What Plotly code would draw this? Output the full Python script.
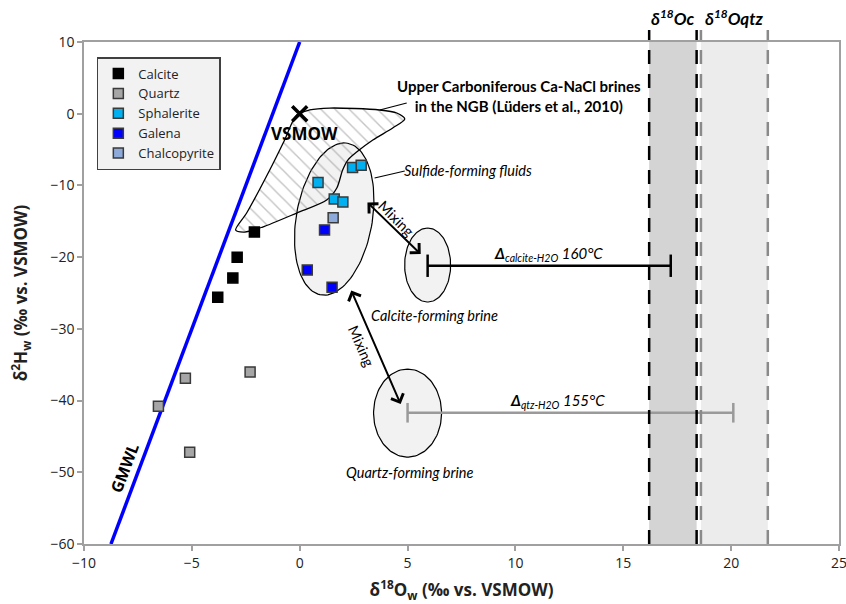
import numpy as np
import plotly.graph_objects as go

# ---------------- data ----------------
calcite_x = [-2.1, -2.9, -3.1, -3.8]
calcite_y = [-16.5, -20.0, -22.9, -25.6]

quartz_x = [-6.55, -5.3, -2.3, -5.1]
quartz_y = [-40.8, -36.9, -36.0, -47.2]

sphalerite_x = [0.85, 2.45, 2.85, 1.6, 2.0]
sphalerite_y = [-9.6, -7.5, -7.2, -11.9, -12.3]

galena_x = [1.15, 0.35, 1.5]
galena_y = [-16.2, -21.8, -24.2]

chalco_x = [1.55]
chalco_y = [-14.5]

gmwl_x = [-8.75, 0.0]
gmwl_y = [-60.0, 10.0]

# Upper Carboniferous brine field outline (data units)
brine_x = [-0.14, 0.46, 1.39, 3.71, 4.50, 4.87, 4.31, 3.39, 2.64, 2.23, 1.99, 1.72,
           1.25, -0.14, -1.72, -2.55, -2.97, -2.46, -1.39, -0.70, -0.14]
brine_y = [-0.18, 0.52, 0.79, 0.52, 0.10, -0.74, -1.99, -3.67, -5.34, -6.46, -7.85,
           -10.36, -12.04, -13.85, -15.80, -16.50, -16.22, -13.85, -7.85, -3.67, -0.18]

# fractionation bars
calc_bar_x = [5.93, 17.2]
calc_bar_y = [-21.2, -21.2]
qtz_bar_x = [5.0, 20.1]
qtz_bar_y = [-41.7, -41.7]

# delta-18O ranges
oc_range = [16.2, 18.4]
oqtz_range = [18.6, 21.7]

# ---------------- layout constants ----------------
W, H = 846, 604
ML, MR, MT, MB = 84, 7, 42, 60
XR = [-10, 25]
YR = [-60, 10]
PXX = (W - ML - MR) / (XR[1] - XR[0])
PXY = (H - MT - MB) / (YR[1] - YR[0])


def ellipse(cx, cy, a_px, b_px, tilt_deg):
    t = np.linspace(0, 2 * np.pi, 120)
    th = np.radians(tilt_deg)
    mx, my = np.sin(th), -np.cos(th)
    nx, ny = np.cos(th), np.sin(th)
    dx = a_px * np.cos(t) * mx + b_px * np.sin(t) * nx
    dy = a_px * np.cos(t) * my + b_px * np.sin(t) * ny
    return cx + dx / PXX, cy - dy / PXY


fig = go.Figure()

FONT = "Lato"
BFONT = "Open Sans"

# ellipses
ell_fill = "#f2f2f2"
for (cx, cy, a, b, tl) in [(1.6, -14.69, 77, 38, 10), (5.93, -21.1, 37, 23, 0), (5.0, -41.74, 44, 34, 0)]:
    ex, ey = ellipse(cx, cy, a, b, tl)
    fig.add_trace(go.Scatter(x=ex, y=ey, mode="lines", fill="toself", fillcolor=ell_fill,
                             line=dict(color="black", width=1.2), showlegend=False, hoverinfo="skip"))

# hatched brine field
fig.add_trace(go.Scatter(x=brine_x, y=brine_y, mode="lines", fill="toself",
                         line=dict(color="black", width=1.3, shape="spline", smoothing=0.8),
                         fillcolor="rgba(0,0,0,0)",
                         fillpattern=dict(shape="\\", fgcolor="#8a8a8a", bgcolor="rgba(0,0,0,0)",
                                          size=10, solidity=0.14),
                         showlegend=False, hoverinfo="skip"))

# GMWL
fig.add_trace(go.Scatter(x=gmwl_x, y=gmwl_y, mode="lines", line=dict(color="#0000ff", width=3.5),
                         showlegend=False, hoverinfo="skip"))

# fractionation bars
fig.add_trace(go.Scatter(x=calc_bar_x, y=calc_bar_y, mode="lines+markers",
                         line=dict(color="black", width=2.5),
                         marker=dict(symbol="line-ns", size=16, line=dict(color="black", width=2.5)),
                         showlegend=False, hoverinfo="skip"))
fig.add_trace(go.Scatter(x=qtz_bar_x, y=qtz_bar_y, mode="lines+markers",
                         line=dict(color="#9a9a9a", width=2.5),
                         marker=dict(symbol="line-ns", size=14, line=dict(color="#9a9a9a", width=2.5)),
                         showlegend=False, hoverinfo="skip"))

# minerals
edge = "#3a3a3a"
for name, xs, ys, col, ec in [("Calcite", calcite_x, calcite_y, "#000000", "#000000"),
                              ("Quartz", quartz_x, quartz_y, "#a6a6a6", edge),
                              ("Sphalerite", sphalerite_x, sphalerite_y, "#00b0f0", edge),
                              ("Galena", galena_x, galena_y, "#0000ff", edge),
                              ("Chalcopyrite", chalco_x, chalco_y, "#8eaadb", edge)]:
    fig.add_trace(go.Scatter(x=xs, y=ys, mode="markers", name=name,
                             marker=dict(symbol="square", size=10, color=col, line=dict(color=ec, width=1.5))))

# VSMOW
fig.add_trace(go.Scatter(x=[0], y=[0], mode="markers",
                         marker=dict(symbol="x-thin", size=15, line=dict(color="black", width=3.5)),
                         showlegend=False, hoverinfo="skip"))

shapes = []
# bands
shapes.append(dict(type="rect", xref="x", yref="paper", x0=oc_range[0], x1=oc_range[1], y0=0, y1=1,
                   fillcolor="#d4d4d4", line=dict(width=0), layer="below"))
shapes.append(dict(type="rect", xref="x", yref="paper", x0=oqtz_range[0], x1=oqtz_range[1], y0=0, y1=1,
                   fillcolor="#ececec", line=dict(width=0), layer="below"))
for xv in oc_range:
    shapes.append(dict(type="line", xref="x", yref="paper", x0=xv, x1=xv, y0=0, y1=1.024,
                       line=dict(color="black", width=2.5, dash="14px,10px")))
for xv in oqtz_range:
    shapes.append(dict(type="line", xref="x", yref="paper", x0=xv, x1=xv, y0=0, y1=1.024,
                       line=dict(color="#8a8a8a", width=2.5, dash="14px,10px")))
# leader lines
shapes.append(dict(type="line", xref="x", yref="y", x0=3.71, y0=0.52, x1=4.96, y1=1.5,
                   line=dict(color="black", width=1.2)))
shapes.append(dict(type="line", xref="x", yref="y", x0=3.47, y0=-8.97, x1=4.87, y1=-7.99,
                   line=dict(color="black", width=1.2)))

ann = []


def txt(x, y, s, size=13, angle=0, color="black", xref="x", yref="y", family=FONT):
    ann.append(dict(x=x, y=y, xref=xref, yref=yref, text=s, showarrow=False, textangle=angle,
                    xanchor="center", yanchor="middle",
                    font=dict(family=family, size=size, color=color)))


txt(0.2, -2.8, "<b>VSMOW</b>", size=17, family=BFONT)
txt(10.16, 2.5, "<b>Upper Carboniferous Ca-NaCl brines<br>in the NGB (Lüders et al., 2010)</b>",
    size=15, family=FONT)
txt(7.79, -7.85, "<i>Sulfide-forming fluids</i>", size=14.5)
txt(6.26, -28.08, "<i>Calcite-forming brine</i>", size=14.5)
txt(5.1, -49.97, "<i>Quartz-forming brine</i>", size=14.5)
txt(11.54, -19.6, "<i><b>Δ</b><sub>calcite-H2O</sub> 160°C</i>", size=15)
txt(11.96, -40.1, "<i><b>Δ</b><sub>qtz-H2O</sub> 155°C</i>", size=15)
txt(4.49, -14.55, "Mixing", size=14.5, angle=45)
txt(2.88, -32.4, "Mixing", size=14.5, angle=66)
txt(-8.12, -49.4, "<b>GMWL</b>", size=16, angle=-69, family=BFONT)
txt(17.3, 1.048, "<b><i>δ<sup>18</sup>Oc</i></b>", size=17, yref="paper")
txt(20.13, 1.048, "<b><i>δ<sup>18</sup>Oqtz</i></b>", size=17, yref="paper")

# mixing arrows
for (x0, y0, x1, y1) in [(3.07, -12.18, 5.61, -19.57), (2.36, -24.45, 4.68, -40.49)]:
    ann.append(dict(x=x1, y=y1, ax=x0, ay=y0, xref="x", yref="y", axref="x", ayref="y", text="",
                    showarrow=True, arrowside="end+start", arrowhead=4, startarrowhead=4,
                    arrowsize=1.3, startarrowsize=1.3, arrowwidth=2, arrowcolor="black",
                    standoff=0, startstandoff=0))

axis_common = dict(showgrid=False, zeroline=False, showline=True, linecolor="#a0a0a0", linewidth=1.5,
                   mirror=True, ticks="outside", ticklen=5, tickcolor="#a0a0a0", tickwidth=1.5,
                   automargin=False, ticklabeloverflow="allow",
                   tickfont=dict(family="Open Sans", size=14, color="#222"))

fig.update_layout(
    width=W, height=H, margin=dict(l=ML, r=MR, t=MT, b=MB),
    plot_bgcolor="white", paper_bgcolor="white",
    shapes=shapes, annotations=ann,
    xaxis=dict(range=XR, dtick=5, title=dict(text="<b>δ<sup>18</sup>O<sub>w</sub> (‰ vs. VSMOW)</b>",
                                              font=dict(family="Open Sans", size=17, color="#222"),
                                              standoff=14), **axis_common),
    yaxis=dict(range=YR, dtick=10, title=dict(text="<b>δ<sup>2</sup>H<sub>w</sub> (‰ vs. VSMOW)</b>",
                                              font=dict(family="Open Sans", size=17, color="#222"),
                                              standoff=18), **axis_common),
    legend=dict(x=0.017, y=0.97, xanchor="left", yanchor="top", bgcolor="#f2f2f2",
                bordercolor="#404040", borderwidth=1.5, font=dict(family="Open Sans", size=13, color="#222"),
                tracegroupgap=0),
    showlegend=True,
)

fig.write_html("out.html")
